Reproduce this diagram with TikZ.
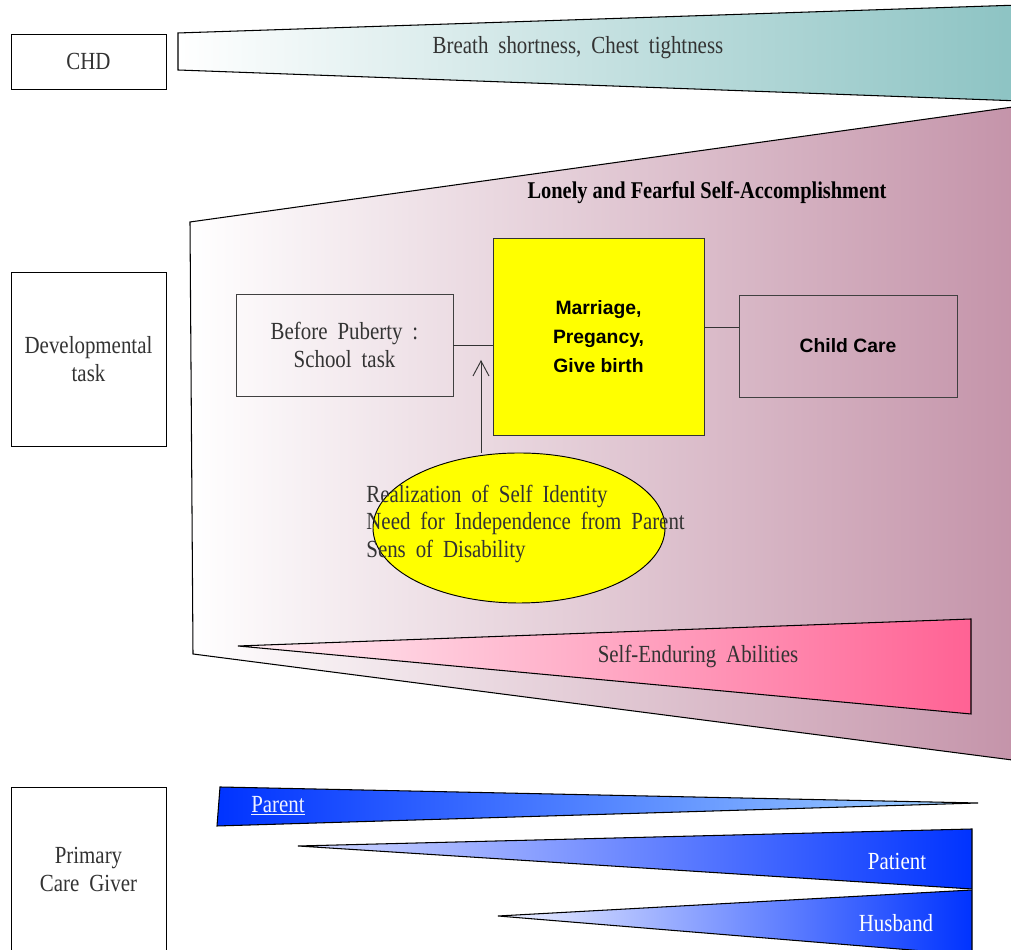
\documentclass[tikz,border=0pt]{standalone}
\usepackage{fontspec}
\setmainfont[FakeStretch=0.85, WordSpace=1.9]{Liberation Serif}
\newfontfamily\titlefont[FakeStretch=0.85]{Liberation Serif}
\newfontfamily\gothic{Liberation Sans}
\usetikzlibrary{arrows.meta, positioning, shapes.geometric}
\definecolor{ctext}{HTML}{333333}
\definecolor{cteal}{HTML}{8CC3C3}
\definecolor{cmauve}{HTML}{C493A9}
\definecolor{cpink}{HTML}{FF6294}
\definecolor{cpinklight}{HTML}{FFF0F5}
\definecolor{cblue}{HTML}{0033FF}
\definecolor{cbluesky}{HTML}{A6D6FF}
\definecolor{cbluepale}{HTML}{D4DAFF}
\definecolor{cbluewhite}{HTML}{F0F2FF}
\definecolor{cyellow}{HTML}{FFFF00}
\tikzset{
  every picture/.style={line width=0.8pt},
  label/.style={font=\fontsize{21}{24}\selectfont, text=ctext, align=center},
  sidebox/.style={draw, fill=white, minimum width=4.65cm, label},
  taskbox/.style={draw=black!75, minimum width=6.5cm, minimum height=3.06cm, label},
  bold/.style={font=\gothic\bfseries\fontsize{16.5}{24.5}\selectfont, text=black, align=center},
  wedge/.style={draw=black, line width=0.9pt},
  arrowopen/.style={-{Straight Barb[length=4.5mm, width=4.8mm, line width=0.8pt]}, draw=black!80},
}

\begin{document}
\begin{tikzpicture}[x=3cm, y=3cm]
  \useasboundingbox (0,0) rectangle (10.11,9.5);

  \shade[wedge, left color=white, right color=cteal] (1.78,9.17) -- (10.2,9.45) -- (10.2,8.49) -- (1.78,8.80) -- cycle;
  \shade[wedge, left color=white, right color=cmauve] (1.90,7.28) -- (10.2,8.44) -- (10.2,1.89) -- (1.93,2.96) -- cycle;
  \shade[wedge, left color=cpinklight, right color=cpink] (2.38,3.04) -- (9.71,3.31) -- (9.71,2.36) -- cycle;
  \shade[wedge, left color=cblue, right color=cbluesky] (2.20,1.63) -- (9.78,1.47) -- (2.17,1.24) -- cycle;
  \shade[wedge, left color=cbluepale, right color=cblue] (2.98,1.04) -- (9.72,1.21) -- (9.72,0.61) -- cycle;
  \shade[wedge, left color=cbluewhite, right color=cblue] (4.98,0.34) -- (9.72,0.60) -- (9.72,-0.05) -- cycle;

  \node[sidebox, minimum height=1.65cm] (chd) at (0.885,8.885) {CHD};
  \node[sidebox, minimum height=5.22cm] (devtask) at (0.885,5.91) {Developmental\\task};
  \node[sidebox, minimum height=4.95cm] (caregiver) at (0.885,0.805) {Primary\\Care Giver};

  \node[label] (breath) at (5.78,9.02) {Breath shortness, Chest tightness};
  \node[label, font=\titlefont\bfseries\fontsize{20.5}{24}\selectfont, text=black] (lonely) at (7.07,7.57) {Lonely and Fearful Self-Accomplishment};

  \node[taskbox, minimum width=6.51cm] (puberty) at (3.445,6.05) {Before Puberty :\\School task};
  \node[draw=black!80, fill=cyellow, minimum width=6.33cm, minimum height=5.91cm, bold] (marriage) at (5.985,6.135) {Marriage,\\Pregancy,\\Give birth};
  \node[taskbox, minimum width=6.54cm, bold] (childcare) at (8.48,6.04) {Child Care};

  \draw[draw=black!80] (puberty.east) -- (puberty.east -| marriage.west);
  \draw[draw=black!80] ([yshift=2.6mm]marriage.east) -- ([yshift=2.6mm]marriage.east -| childcare.west);

  \node[ellipse, draw, fill=cyellow, minimum width=8.76cm, minimum height=4.5cm, inner sep=0pt] (needs) at (5.19,4.22) {};
  \node[label, align=left, anchor=west, font=\fontsize{21}{23.6}\selectfont] (needtext) at (3.62,4.26) {Realization of Self Identity\\Need for Independence from Parent\\Sens of Disability};
  \coordinate (tip) at (4.81,5.90);
  \draw[arrowopen] (tip |- needs.north) -- (tip);

  \node[label] (enduring) at (6.98,2.93) {Self-Enduring Abilities};

  \node[label, text=cbluewhite] (parent) at (2.78,1.44) {\underline{Parent}};
  \node[label, text=white] (patient) at (8.97,0.89) {Patient};
  \node[label, text=white] (husband) at (8.96,0.27) {Husband};
\end{tikzpicture}
\end{document}
